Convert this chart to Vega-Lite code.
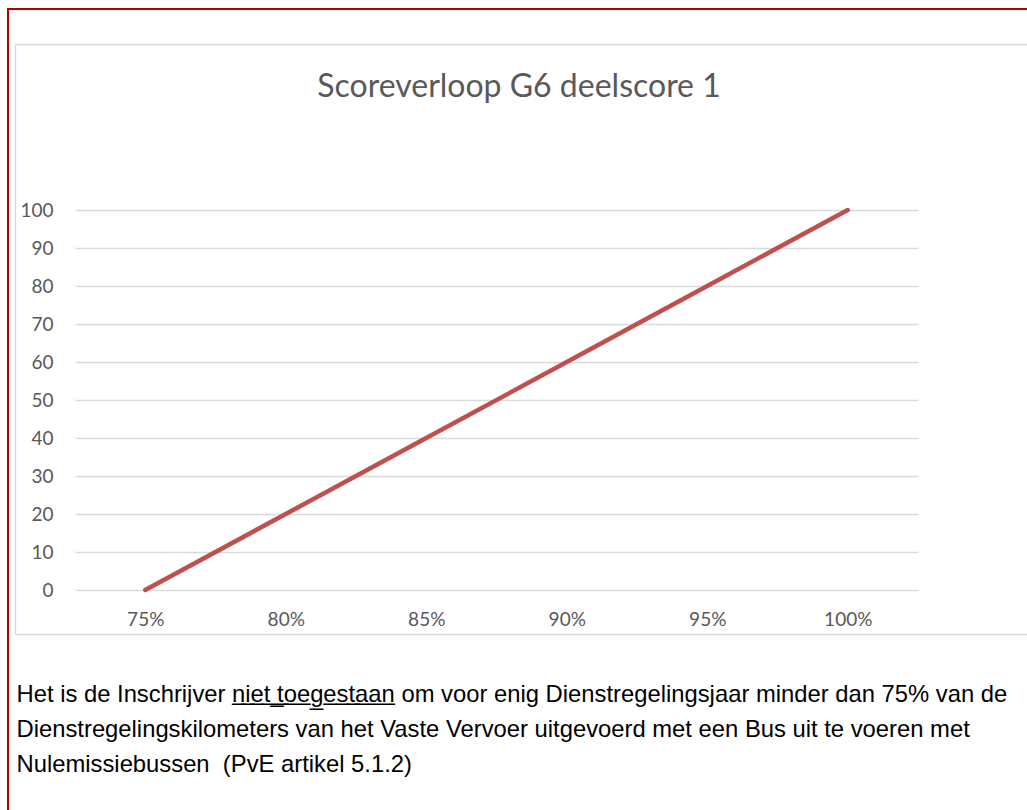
{
  "$schema": "https://vega.github.io/schema/vega-lite/v6.json",
  "autosize": {"type": "none"},
  "padding": {"left": 8, "top": 9, "right": -5, "bottom": -5},
  "width": 1024,
  "height": 806,
  "background": "#ffffff",
  "config": {
    "view": {"stroke": "#b00000", "strokeWidth": 2},
    "font": "Lato"
  },
  "title": {
    "text": "Scoreverloop G6 deelscore 1",
    "anchor": "middle",
    "orient": "top",
    "frame": "group",
    "offset": 0,
    "baseline": "alphabetic",
    "dy": 120,
    "dx": -1,
    "font": "Lato",
    "fontSize": 32,
    "fontWeight": "normal",
    "color": "#595959"
  },
  "data": {
    "values": [
      {"pct": "75%", "score": 0},
      {"pct": "80%", "score": 20},
      {"pct": "85%", "score": 40},
      {"pct": "90%", "score": 60},
      {"pct": "95%", "score": 80},
      {"pct": "100%", "score": 100}
    ]
  },
  "resolve": {
    "scale": {"x": "independent", "y": "independent"},
    "axis": {"x": "independent", "y": "independent"}
  },
  "layer": [
    {
      "mark": {"type": "line", "color": "#c0504d", "strokeWidth": 4.5, "strokeCap": "round"},
      "encoding": {
        "x": {
          "field": "pct",
          "type": "ordinal",
          "sort": null,
          "scale": {"type": "point", "range": [67, 910], "padding": 0.5},
          "axis": {
            "orient": "bottom",
            "offset": -190,
            "domain": false,
            "ticks": false,
            "tickSize": 0,
            "grid": false,
            "labelPadding": 0,
            "labelBaseline": "alphabetic",
            "labelAngle": 0,
            "labelFont": "Lato",
            "labelFontSize": 19,
            "labelColor": "#595959",
            "title": [
              "Het is de Inschrijver n\u0332i\u0332e\u0332t\u0332 \u0332t\u0332o\u0332e\u0332g\u0332e\u0332s\u0332t\u0332a\u0332a\u0332n\u0332 om voor enig Dienstregelingsjaar minder dan 75% van de",
              "Dienstregelingskilometers van het Vaste Vervoer uitgevoerd met een Bus uit te voeren met",
              "Nulemissiebussen \u00a0(PvE artikel 5.1.2)"
            ],
            "titleX": 8,
            "titleY": 76,
            "titleAlign": "left",
            "titleAnchor": "start",
            "titleBaseline": "alphabetic",
            "titleLineHeight": 35,
            "titleFont": "Liberation Sans",
            "titleFontSize": 23.8,
            "titleFontWeight": "normal",
            "titleColor": "#000000",
            "titleLimit": 3000
          }
        },
        "y": {
          "field": "score",
          "type": "quantitative",
          "scale": {"domain": [0, 100], "range": [581, 201], "nice": false},
          "axis": {
            "orient": "left",
            "offset": -47,
            "values": [0, 10, 20, 30, 40, 50, 60, 70, 80, 90, 100],
            "domain": false,
            "ticks": false,
            "tickSize": 0,
            "labelPadding": 2,
            "labelFont": "Lato",
            "labelFontSize": 19,
            "labelColor": "#595959",
            "grid": true,
            "gridColor": "#d9d9d9",
            "gridWidth": 1.3,
            "title": null
          }
        }
      }
    },
    {
      "mark": {"type": "line", "opacity": 0},
      "encoding": {
        "x": {
          "field": "pct",
          "type": "ordinal",
          "sort": null,
          "scale": {"type": "point", "range": [7, 1030], "padding": 0},
          "axis": null
        },
        "y": {
          "field": "score",
          "type": "quantitative",
          "scale": {"domain": [0, 100], "range": [625, 35], "nice": false},
          "axis": {
            "orient": "left",
            "offset": -7,
            "values": [0, 100],
            "domain": true,
            "domainColor": "#d9d9d9",
            "domainWidth": 1.3,
            "ticks": false,
            "labels": false,
            "grid": true,
            "gridColor": "#d9d9d9",
            "gridWidth": 1.3,
            "title": null
          }
        }
      }
    }
  ]
}
